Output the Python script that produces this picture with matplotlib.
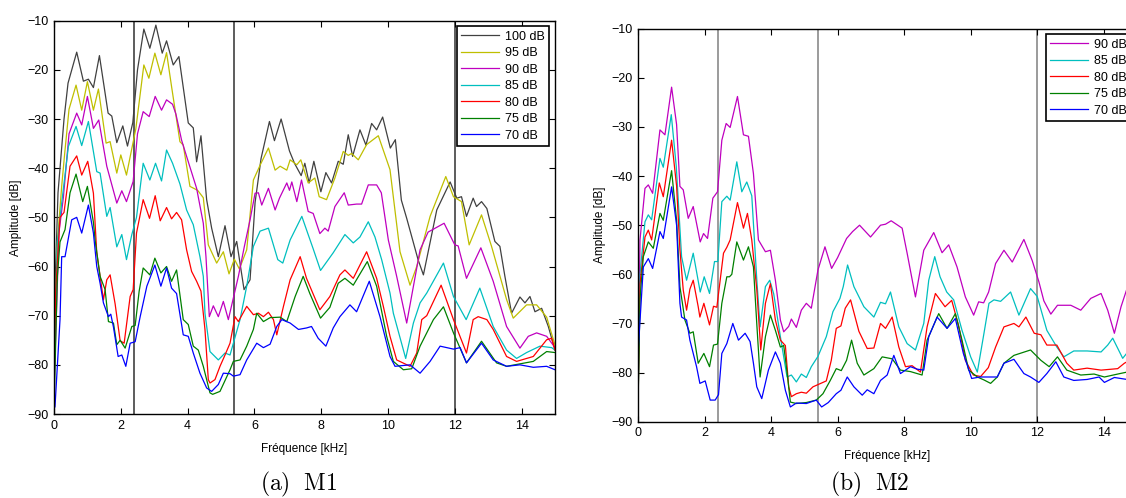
import matplotlib
matplotlib.use("Agg")
import matplotlib.pyplot as plt

plt.rcParams['font.family'] = ['Liberation Sans', 'DejaVu Sans']
plt.rcParams['mathtext.fontset'] = 'cm'

# --- M1 : amplitude spectra (freq kHz, amplitude dB) ---
m1_100 = [(0, -85), (0.05, -60), (0.12, -45), (0.3, -30), (0.42, -22.7), (0.68, -16.4), (0.88, -22.3),
          (1.03, -21.9), (1.18, -23.6), (1.36, -17.1), (1.62, -28.8), (1.73, -29.4), (1.88, -34.8),
          (2.06, -31.4), (2.2, -35.5), (2.36, -30.7), (2.5, -20), (2.69, -11.7), (2.87, -15.6),
          (3.05, -10.9), (3.24, -16.6), (3.37, -14.1), (3.57, -19), (3.74, -17.3), (4.02, -30.8),
          (4.17, -31.8), (4.27, -38.7), (4.4, -33.4), (4.57, -46.4), (4.72, -52.2), (4.92, -58),
          (5.12, -51.7), (5.3, -58), (5.47, -54.9), (5.69, -64.7), (5.87, -62.7), (6.02, -47),
          (6.2, -38), (6.45, -30.5), (6.6, -34.4), (6.8, -30), (7.05, -36.5), (7.2, -39), (7.4, -41.5),
          (7.51, -39), (7.64, -43), (7.78, -38.6), (7.99, -44.8), (8.14, -40.9), (8.31, -43),
          (8.51, -38.6), (8.66, -39.2), (8.81, -33.2), (8.94, -37.6), (9.16, -32.2), (9.34, -35.3),
          (9.51, -30.9), (9.66, -32.2), (9.84, -29.6), (10.07, -35.9), (10.22, -34.2), (10.4, -46.5),
          (10.56, -50.2), (10.9, -58.6), (11.06, -61.7), (11.2, -57.1), (11.46, -48.5), (11.86, -42.8),
          (12.06, -46.1), (12.2, -45.8), (12.35, -49.8), (12.55, -46.1), (12.65, -47.8), (12.8, -46.8),
          (12.96, -48.2), (13.2, -54.9), (13.35, -55.9), (13.5, -62), (13.7, -69.5), (13.95, -66.2),
          (14.1, -67.4), (14.25, -66.1), (14.4, -69.2), (14.6, -68.5), (14.8, -72.2), (15, -77)]
m1_95 = [(0, -78), (0.1, -55), (0.23, -43.7), (0.32, -37), (0.45, -28), (0.66, -23.1), (0.83, -28.2),
         (1.0, -22.4), (1.18, -28.2), (1.33, -23.9), (1.56, -34.9), (1.68, -34.6), (1.88, -41), (2.0, -37.3),
         (2.17, -41.4), (2.33, -36), (2.45, -32), (2.69, -19), (2.84, -21.7), (3.02, -16.6), (3.2, -21),
         (3.37, -16.5), (3.52, -23.4), (3.77, -34.6), (3.87, -35.3), (4.07, -43.7), (4.3, -44.5),
         (4.47, -46), (4.62, -55.6), (4.87, -59.3), (5.07, -57), (5.24, -61.5), (5.4, -58.5), (5.55, -60.5),
         (5.77, -56.6), (5.97, -42.4), (6.17, -39.4), (6.42, -35.9), (6.62, -40.4), (6.77, -39.6),
         (6.97, -40.4), (7.07, -38.3), (7.27, -39.3), (7.39, -38.3), (7.61, -43), (7.81, -42),
         (7.94, -45.8), (8.16, -46.4), (8.41, -42), (8.66, -36.6), (8.81, -37.4), (8.91, -37),
         (9.11, -38.3), (9.36, -35.2), (9.71, -33.4), (10.06, -40.3), (10.36, -57), (10.66, -63.8),
         (10.86, -60), (11.26, -49.8), (11.73, -41.7), (11.96, -45.8), (12.2, -46.8), (12.43, -55.6),
         (12.8, -49.5), (13.1, -55.9), (13.55, -66.7), (13.75, -70.5), (14.15, -67.8), (14.45, -67.8),
         (14.75, -70.3), (15, -76)]
m1_90 = [(0, -85), (0.15, -53), (0.28, -46), (0.45, -33), (0.68, -28.8), (0.83, -31.2), (1.0, -25.4),
         (1.18, -31.9), (1.34, -30.2), (1.58, -39.6), (1.88, -47.1), (2.03, -44.6), (2.17, -46.8),
         (2.37, -42.7), (2.5, -33), (2.67, -28.5), (2.85, -29.5), (3.03, -25.4), (3.22, -28.2),
         (3.37, -26.1), (3.55, -27), (3.65, -29), (3.82, -34.3), (3.97, -37.6), (4.27, -44.1),
         (4.47, -51.2), (4.55, -58), (4.65, -70.2), (4.77, -68), (4.92, -70.2), (5.07, -67.1),
         (5.22, -70.8), (5.37, -66.4), (5.52, -62), (5.7, -55.9), (5.87, -50.5), (6.02, -45.1),
         (6.12, -45), (6.22, -47.5), (6.42, -44.1), (6.62, -48.5), (6.75, -46.1), (6.97, -43),
         (7.05, -44.5), (7.12, -42.8), (7.27, -46.8), (7.41, -42.4), (7.61, -48.8), (7.76, -49.2),
         (7.96, -53.3), (8.11, -52.2), (8.21, -52.8), (8.41, -47.8), (8.69, -45), (8.81, -47.5),
         (9.06, -47.3), (9.21, -47.3), (9.41, -43.4), (9.66, -43.4), (9.8, -45), (10.01, -54.6),
         (10.26, -62), (10.56, -71.5), (10.96, -56.6), (11.2, -53), (11.68, -51.2), (12.0, -55.6),
         (12.1, -55.8), (12.35, -62.4), (12.78, -56.2), (13.15, -63), (13.55, -72.2), (13.95, -76.6),
         (14.2, -74.2), (14.45, -73.5), (14.75, -74.2), (15, -76.5)]
m1_85 = [(0, -80), (0.1, -55), (0.23, -47.1), (0.43, -35.6), (0.66, -31.5), (0.83, -35.4), (1.03, -30.5),
         (1.28, -40.7), (1.38, -41), (1.58, -49.8), (1.68, -48), (1.88, -56), (2.03, -53.5), (2.17, -58.6),
         (2.33, -53.5), (2.47, -50), (2.67, -39), (2.87, -42.4), (3.04, -39), (3.22, -42.6), (3.37, -36.3),
         (3.55, -39), (3.77, -43.2), (3.97, -48.5), (4.17, -51.5), (4.37, -58), (4.47, -62), (4.52, -69.5),
         (4.67, -77.3), (4.92, -79), (5.12, -77.6), (5.27, -78), (5.37, -75.6), (5.57, -70.8), (5.77, -64),
         (5.97, -55.9), (6.17, -52.8), (6.42, -52.2), (6.7, -58.6), (6.85, -59.3), (7.07, -54.6),
         (7.42, -49.8), (7.61, -53.5), (7.76, -56.4), (7.98, -60.8), (8.36, -57.2), (8.71, -53.5),
         (8.96, -55.2), (9.16, -54), (9.41, -50.9), (9.61, -54), (9.81, -58.6), (10.06, -65.4),
         (10.16, -69.5), (10.53, -78.7), (10.76, -71.5), (10.96, -67.4), (11.16, -65.4), (11.66, -59.3),
         (11.96, -66.1), (12.34, -70.8), (12.75, -64.4), (13.15, -72.2), (13.55, -77), (13.85, -78.7),
         (14.15, -77.5), (14.55, -76.2), (14.9, -76.5), (15, -77)]
m1_80 = [(0, -86), (0.05, -65), (0.18, -50), (0.3, -49), (0.48, -39.6), (0.68, -37.5), (0.83, -41.4),
         (1.01, -38.6), (1.18, -45.1), (1.28, -57.2), (1.38, -62), (1.48, -66.8), (1.58, -62.7),
         (1.68, -61.7), (1.83, -67.6), (1.98, -75.1), (2.1, -75.6), (2.28, -66.1), (2.37, -64.7),
         (2.47, -53.2), (2.67, -46.4), (2.86, -50.2), (3.03, -45.6), (3.18, -50.7), (3.37, -48),
         (3.52, -50.3), (3.67, -49), (3.82, -50.5), (3.97, -56.6), (4.12, -61), (4.27, -63), (4.4, -65),
         (4.52, -72.8), (4.62, -83), (4.67, -83.7), (4.82, -83), (4.97, -80.3), (5.12, -78), (5.27, -75.6),
         (5.42, -70.2), (5.52, -71.2), (5.77, -68.1), (5.97, -69.8), (6.12, -69.5), (6.27, -70.2),
         (6.42, -69.3), (6.57, -70.8), (6.67, -73.9), (6.87, -68.1), (7.07, -62.7), (7.37, -58),
         (7.56, -62.4), (7.96, -68.8), (8.26, -66.1), (8.56, -61.7), (8.71, -60.7), (8.96, -62.4),
         (9.36, -57), (9.66, -62.4), (9.86, -68.1), (10.06, -74.2), (10.26, -79), (10.66, -80.3),
         (10.86, -77.6), (11.01, -70.8), (11.16, -70), (11.59, -63.8), (11.96, -70.8), (12.35, -77.6),
         (12.55, -70.8), (12.7, -70.2), (12.96, -70.8), (13.15, -72.8), (13.55, -78.3), (13.85, -79.3),
         (14.35, -78.3), (14.75, -74.9), (14.9, -74.6), (15, -77)]
m1_75 = [(0, -89), (0.1, -62), (0.18, -55), (0.33, -52.5), (0.48, -45), (0.66, -41.2), (0.86, -46.8),
         (1.0, -43.7), (1.18, -51), (1.23, -54.6), (1.38, -62), (1.53, -64.7), (1.63, -71.2), (1.78, -71.5),
         (1.88, -75.9), (1.98, -75), (2.13, -76.6), (2.33, -72.2), (2.43, -72), (2.55, -65), (2.67, -60.3),
         (2.87, -61.7), (3.02, -58.3), (3.2, -61.3), (3.37, -60), (3.52, -63), (3.67, -60.7), (3.87, -70.8),
         (4.02, -71.8), (4.17, -76.2), (4.32, -77), (4.47, -80.3), (4.67, -85.7), (4.75, -86), (4.97, -85.4),
         (5.27, -81), (5.37, -79.3), (5.57, -79), (5.77, -76.2), (5.97, -72.8), (6.07, -69.5), (6.27, -71.2),
         (6.47, -70.4), (6.77, -70.3), (6.97, -71.2), (7.22, -66.1), (7.46, -62), (7.66, -65.5),
         (7.98, -70.5), (8.26, -68.3), (8.51, -63.4), (8.71, -62.4), (8.96, -63.8), (9.38, -59), (9.66, -64),
         (9.96, -74.2), (10.16, -79.3), (10.46, -81), (10.71, -80.8), (10.96, -76.2), (11.36, -70.8),
         (11.66, -68.2), (11.96, -73.5), (12.35, -79.6), (12.8, -75.2), (13.25, -79.6), (13.55, -80.3),
         (14.35, -79.3), (14.75, -77.3), (15, -77.5)]
m1_70 = [(0, -89), (0.03, -88.5), (0.18, -70.8), (0.23, -58), (0.33, -58), (0.53, -50.5), (0.68, -50),
         (0.83, -53.2), (1.03, -47.5), (1.18, -53.2), (1.28, -60), (1.38, -63.4), (1.48, -67.4),
         (1.63, -70.2), (1.7, -69.7), (1.78, -72.3), (1.92, -78.3), (2.03, -78), (2.15, -80.3),
         (2.28, -75.6), (2.43, -75.3), (2.58, -70.2), (2.78, -64), (2.87, -62.4), (3.02, -59.7), (3.2, -64),
         (3.37, -60.3), (3.52, -64.4), (3.67, -65.5), (3.87, -73.9), (4.02, -74.2), (4.17, -77.6),
         (4.37, -81.7), (4.57, -84.7), (4.72, -85.4), (4.92, -84), (5.07, -81.7), (5.27, -81.8),
         (5.37, -82.3), (5.57, -82), (5.77, -79), (6.07, -75.6), (6.27, -76.5), (6.47, -75.8), (6.67, -72.2),
         (6.82, -70.8), (7.07, -71.5), (7.32, -72.8), (7.56, -72.5), (7.71, -72.2), (7.91, -74.6),
         (8.14, -76.2), (8.36, -72.5), (8.56, -70.2), (8.86, -67.8), (9.06, -69.2), (9.44, -63),
         (9.76, -70.2), (10.06, -78.3), (10.21, -80.3), (10.66, -80), (10.96, -81.7), (11.26, -79.3),
         (11.56, -76.2), (11.96, -76.8), (12.16, -76.5), (12.35, -79.6), (12.8, -75.6), (13.15, -79),
         (13.55, -80.3), (13.95, -80), (14.35, -80.5), (14.75, -80.3), (15, -81)]

# --- M2 ---
m2_90 = [(0, -87), (0.06, -53), (0.21, -42.5), (0.31, -41.8), (0.44, -43.5), (0.66, -30.6), (0.81, -31.6),
         (1.01, -21.9), (1.16, -29.5), (1.26, -42.1), (1.36, -42.8), (1.51, -48.6), (1.66, -46.2),
         (1.87, -53.4), (1.97, -51.7), (2.09, -52.7), (2.25, -44.5), (2.39, -43.2), (2.52, -32.7),
         (2.65, -29.3), (2.77, -30.1), (2.99, -23.8), (3.17, -31.6), (3.32, -31.9), (3.47, -39.5),
         (3.62, -53), (3.83, -55.4), (3.98, -55.1), (4.13, -61.2), (4.28, -69.3), (4.38, -71.7),
         (4.53, -70.6), (4.61, -69.1), (4.76, -70.8), (4.91, -67.3), (5.06, -65.9), (5.21, -66.9),
         (5.41, -59.1), (5.62, -54.4), (5.82, -58.8), (6.0, -56.6), (6.27, -52.7), (6.45, -51.3),
         (6.66, -50), (6.99, -52.4), (7.29, -50), (7.44, -49.8), (7.61, -49.1), (7.94, -50.6),
         (8.09, -55.7), (8.34, -64.6), (8.59, -55.1), (8.89, -51.5), (9.14, -55.6), (9.34, -54),
         (9.59, -58.5), (9.84, -64.6), (10.09, -68.3), (10.24, -65.6), (10.39, -65.8), (10.54, -63.6),
         (10.75, -57.8), (11.0, -55.1), (11.25, -57.5), (11.6, -52.9), (11.85, -57.2), (12.05, -61.5),
         (12.2, -65.4), (12.41, -68.1), (12.61, -66.3), (13.01, -66.3), (13.31, -67.3), (13.61, -64.9),
         (13.92, -63.9), (14.12, -67.3), (14.32, -72), (14.52, -66.6), (14.7, -62.9), (15, -62)]
m2_85 = [(0, -87), (0.06, -60), (0.21, -49.3), (0.31, -47.9), (0.41, -48.9), (0.66, -36.4), (0.76, -38.2),
         (1.0, -27.5), (1.15, -38), (1.31, -56.4), (1.46, -61.2), (1.66, -55.7), (1.87, -63.6),
         (1.99, -60.5), (2.15, -63.9), (2.3, -57.4), (2.4, -57.4), (2.52, -45.2), (2.67, -44.1),
         (2.77, -44.9), (2.97, -37.1), (3.12, -43.2), (3.27, -41.2), (3.42, -44), (3.57, -61),
         (3.67, -70.7), (3.83, -62.5), (3.96, -61.2), (4.08, -64), (4.28, -72.7), (4.48, -80.9),
         (4.61, -80.5), (4.76, -81.9), (4.91, -80.3), (5.06, -81), (5.21, -78.8), (5.41, -76.7),
         (5.66, -72.7), (5.86, -67.6), (6.07, -64.9), (6.17, -62.5), (6.3, -58.1), (6.49, -62.5),
         (6.79, -66.6), (7.09, -68.7), (7.29, -65.7), (7.44, -66), (7.59, -63.6), (7.84, -70.7),
         (8.09, -74.1), (8.34, -75.4), (8.59, -70), (8.74, -61.2), (8.92, -56.4), (9.08, -60.5),
         (9.28, -63.6), (9.49, -65.2), (9.74, -71.4), (10.0, -76.8), (10.2, -79.9), (10.4, -72),
         (10.55, -65.9), (10.7, -65.2), (10.9, -65.5), (11.2, -63.6), (11.45, -68.3), (11.8, -62.9),
         (12.0, -64.5), (12.29, -71.4), (12.59, -74.8), (12.8, -76.8), (13.1, -75.6), (13.5, -75.6),
         (13.92, -75.8), (14.12, -74.4), (14.27, -73), (14.57, -77.1), (14.7, -76), (15, -75)]
m2_80 = [(0, -87), (0.06, -62), (0.21, -52.4), (0.31, -51), (0.41, -53), (0.64, -41.4), (0.76, -44.2),
         (1.01, -32.7), (1.16, -42), (1.26, -55), (1.36, -63.2), (1.46, -67.3), (1.56, -63), (1.66, -61.2),
         (1.81, -66.6), (1.86, -68.7), (1.98, -65.9), (2.15, -70.3), (2.27, -66.5), (2.37, -66.7),
         (2.47, -61.2), (2.57, -55.7), (2.67, -54.5), (2.77, -53), (2.99, -45.4), (3.17, -50.6),
         (3.29, -47.6), (3.42, -53), (3.57, -63), (3.69, -75.4), (3.83, -65.9), (3.98, -61.9),
         (4.13, -69.3), (4.28, -73.4), (4.43, -74.5), (4.53, -82.9), (4.61, -84.9), (4.76, -84.3),
         (4.91, -84), (5.06, -84.2), (5.26, -82.9), (5.46, -82.3), (5.66, -81.7), (5.81, -77.5),
         (5.96, -71), (6.1, -70.5), (6.23, -66.9), (6.39, -65.2), (6.64, -71.6), (6.89, -75.1),
         (7.09, -75), (7.29, -70), (7.44, -71), (7.64, -68.7), (7.84, -74.8), (8.04, -78.8), (8.24, -78.6),
         (8.49, -79.9), (8.69, -70.7), (8.94, -63.9), (9.23, -66.6), (9.43, -65.3), (9.64, -70.5),
         (9.84, -77.5), (10.08, -80.5), (10.3, -80.8), (10.53, -79), (10.75, -74.8), (11.0, -70.7),
         (11.3, -70), (11.45, -70.7), (11.66, -68.7), (11.91, -72), (12.11, -72.3), (12.29, -74.4),
         (12.59, -74.4), (12.89, -78.1), (13.1, -79.5), (13.5, -79.1), (13.92, -79.5), (14.42, -79.2),
         (14.62, -78.1), (14.7, -77.8), (15, -77)]
m2_75 = [(0, -87), (0.06, -65), (0.16, -56.4), (0.31, -53.4), (0.46, -54.7), (0.66, -47.6), (0.76, -49),
         (1.01, -38.9), (1.16, -49), (1.26, -62.5), (1.41, -69.3), (1.56, -72), (1.66, -71.7),
         (1.81, -78.1), (1.98, -76.1), (2.15, -78.8), (2.27, -74.4), (2.39, -74.2), (2.52, -65.9),
         (2.67, -60.5), (2.75, -60.5), (2.82, -60), (2.97, -53.4), (3.17, -57.1), (3.32, -54.4),
         (3.47, -58.5), (3.57, -70), (3.67, -80.9), (3.83, -72.7), (3.98, -68.3), (4.13, -71.4),
         (4.28, -74.8), (4.38, -74.5), (4.48, -79.9), (4.58, -86), (4.76, -86.3), (5.06, -86.1),
         (5.36, -85.6), (5.56, -84.3), (5.78, -81.6), (5.96, -79.2), (6.11, -79.6), (6.27, -77.5),
         (6.42, -73.4), (6.59, -78.1), (6.79, -80.5), (7.09, -79.2), (7.34, -76.8), (7.64, -77.2),
         (7.89, -79.5), (8.19, -79.8), (8.54, -80.5), (8.69, -73.4), (9.04, -68), (9.29, -71), (9.54, -68),
         (9.74, -73.4), (9.94, -79.5), (10.2, -80.9), (10.4, -81.5), (10.6, -82.2), (10.8, -80.9),
         (11.0, -78.1), (11.3, -76.5), (11.8, -75.4), (12.11, -77.5), (12.36, -78.8), (12.61, -76.8),
         (12.89, -79.5), (13.31, -80.5), (13.71, -80.3), (14.02, -80.9), (14.42, -80.3), (14.7, -79.9),
         (15, -79.5)]
m2_70 = [(0, -87), (0.01, -75), (0.16, -58.5), (0.31, -56.8), (0.44, -58.8), (0.66, -51.3), (0.76, -52.7),
         (1.01, -42.2), (1.16, -50), (1.26, -65.9), (1.31, -68.7), (1.46, -69.3), (1.56, -73.4),
         (1.76, -78.8), (1.86, -82.2), (2.02, -81.7), (2.17, -85.6), (2.32, -85.6), (2.42, -84.5),
         (2.52, -76.1), (2.67, -74.1), (2.85, -70), (3.02, -73.4), (3.22, -72), (3.37, -73.7),
         (3.47, -78.1), (3.57, -82.9), (3.72, -85.3), (3.92, -79.5), (4.13, -75.8), (4.28, -78.1),
         (4.43, -83.6), (4.58, -87), (4.76, -86.2), (5.06, -86.3), (5.36, -85.6), (5.52, -87),
         (5.72, -86.1), (5.96, -84.3), (6.1, -83.6), (6.29, -80.9), (6.49, -82.9), (6.74, -84.6),
         (6.89, -83.5), (7.09, -84.3), (7.29, -81.6), (7.49, -80.5), (7.69, -76.5), (7.89, -80.2),
         (8.19, -78.8), (8.39, -79.3), (8.59, -79.5), (8.74, -72.7), (8.99, -68.7), (9.29, -71),
         (9.54, -69), (9.78, -76.1), (10.03, -81.2), (10.28, -80.9), (10.53, -80.9), (10.8, -80.9),
         (11.0, -78.1), (11.3, -77.3), (11.6, -80.2), (11.8, -80.9), (12.05, -82), (12.29, -80.2),
         (12.56, -77.8), (12.8, -80.9), (13.1, -81.6), (13.5, -81.4), (13.86, -80.9), (14.02, -82),
         (14.32, -81), (14.7, -81.4), (15, -81.2)]

m1_labels = ['100 dB', '95 dB', '90 dB', '85 dB', '80 dB', '75 dB', '70 dB']
m2_labels = ['90 dB', '85 dB', '80 dB', '75 dB', '70 dB']
band_edges = [2.4, 5.4, 12]

colors = {'100 dB': '#404040', '95 dB': '#bfbf00', '90 dB': '#bf00bf', '85 dB': '#00bfbf',
          '80 dB': '#ff0000', '75 dB': '#008000', '70 dB': '#0000ff'}

fig = plt.figure(figsize=(11.26, 4.98), dpi=100)
ax1 = fig.add_axes([54 / 1126, 84 / 498, 501 / 1126, 393.3 / 498])
ax2 = fig.add_axes([638 / 1126, 76.3 / 498, 499 / 1126, 393 / 498])


def draw(ax, curves, labels, vcolor):
    for x in band_edges:
        ax.axvline(x, color=vcolor, lw=1.1, zorder=1)
    for c, lab in zip(curves, labels):
        f = [p[0] for p in c]
        a = [p[1] for p in c]
        ax.plot(f, a, color=colors[lab], lw=0.9, label=lab, zorder=2)
    ax.set_xlim(0, 15)
    ax.set_ylim(-90, -10)
    ax.set_xticks(range(0, 15, 2))
    ax.set_yticks(range(-90, 0, 10))
    ax.tick_params(direction='in', top=True, right=True, length=4, labelsize=9, pad=4)
    for s in ax.spines.values():
        s.set_linewidth(1.0)
    ax.set_xlabel('Fréquence [kHz]', fontsize=8.5, labelpad=8)
    ax.set_ylabel('Amplitude [dB]', fontsize=8.5, labelpad=4)
    leg = ax.legend(loc='upper right', fontsize=9, fancybox=False, edgecolor='black',
                    framealpha=1, borderaxespad=0.45, handlelength=3.0, labelspacing=0.36,
                    borderpad=0.35, handletextpad=0.5)
    leg.get_frame().set_linewidth(1.2)


draw(ax1, [m1_100, m1_95, m1_90, m1_85, m1_80, m1_75, m1_70], m1_labels, '#303030')
draw(ax2, [m2_90, m2_85, m2_80, m2_75, m2_70], m2_labels, '#808080')

fig.text(299 / 1126, 14 / 498, r'$\mathrm{(a)\ \ M1}$', ha='center', va='center', fontsize=17)
fig.text(870 / 1126, 14 / 498, r'$\mathrm{(b)\ \ M2}$', ha='center', va='center', fontsize=17)

fig.savefig('out.png', dpi=100)
